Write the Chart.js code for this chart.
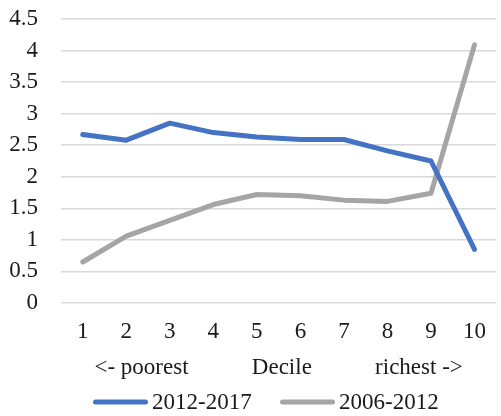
<!DOCTYPE html>
<html>
<head>
<meta charset="utf-8">
<script src="https://cdn.jsdelivr.net/npm/chart.js@4/dist/chart.umd.min.js"></script>
<style>
  html, body { margin: 0; padding: 0; background: #fff; }
  #wrap { width: 501px; height: 416px; }
</style>
</head>
<body>
<div id="wrap"><canvas id="c" width="501" height="416"></canvas></div>
<script>
// Deciles of household income, poorest (1) to richest (10)
const deciles = ['1', '2', '3', '4', '5', '6', '7', '8', '9', '10'];
// Growth by decile, two periods
const growth2012_2017 = [2.67, 2.58, 2.85, 2.70, 2.63, 2.59, 2.59, 2.41, 2.25, 0.85];
const growth2006_2012 = [0.65, 1.06, 1.31, 1.56, 1.72, 1.70, 1.63, 1.61, 1.74, 4.09];
const seriesNames = ['2012-2017', '2006-2012'];
const seriesColors = ['#4472C4', '#A5A5A5'];
const gap = ' '.repeat(11);
const axisTitle = '<- poorest' + gap + 'Decile' + gap + 'richest ->';

const font = { family: '"Liberation Serif", "Times New Roman", serif', size: 23 };
const ink = '#1a1a1a';

// Legend row under the axis title: a short line swatch followed by the series name
const lineLegend = {
  id: 'lineLegend',
  afterDraw(chart) {
    const ctx = chart.ctx;
    const y = 402, swatch = 55, textGap = 4;
    const starts = [93, 280];
    ctx.save();
    ctx.font = `${font.size}px ${font.family}`;
    ctx.textBaseline = 'middle';
    ctx.lineCap = 'round';
    ctx.lineWidth = 5;
    chart.data.datasets.forEach((ds, i) => {
      const x = starts[i];
      ctx.strokeStyle = ds.borderColor;
      ctx.beginPath();
      ctx.moveTo(x + 2.5, y);
      ctx.lineTo(x + swatch - 2.5, y);
      ctx.stroke();
      ctx.fillStyle = ink;
      ctx.fillText(ds.label, x + swatch + textGap, y + 1);
    });
    ctx.restore();
  }
};

new Chart(document.getElementById('c'), {
  type: 'line',
  data: {
    labels: deciles,
    datasets: [
      { label: seriesNames[0], data: growth2012_2017, borderColor: seriesColors[0], backgroundColor: seriesColors[0] },
      { label: seriesNames[1], data: growth2006_2012, borderColor: seriesColors[1], backgroundColor: seriesColors[1] }
    ]
  },
  options: {
    responsive: false,
    animation: false,
    devicePixelRatio: 1,
    layout: { padding: { top: 0, left: 8, right: 0, bottom: 34 } },
    elements: {
      line: { borderWidth: 5, tension: 0, borderCapStyle: 'round', borderJoinStyle: 'round' },
      point: { radius: 0, hoverRadius: 0 }
    },
    scales: {
      x: {
        offset: true,
        afterFit(scale) { scale.height = 79; },
        grid: { display: false, drawTicks: false },
        border: { display: false },
        ticks: { font, color: ink, padding: 15, maxRotation: 0, autoSkip: false },
        title: { display: true, text: axisTitle, font, color: ink, padding: { top: 10, bottom: 0 } }
      },
      y: {
        min: 0, max: 4.5,
        afterFit(scale) { scale.width = 53; scale.paddingTop = 19; scale.paddingBottom = 0; },
        grid: { color: '#D9D9D9', lineWidth: 1.5, drawTicks: false },
        border: { display: false },
        ticks: { stepSize: 0.5, font, color: ink, padding: 23, autoSkip: false, callback: v => String(v) }
      }
    },
    plugins: {
      tooltip: { enabled: false },
      legend: { display: false }
    }
  },
  plugins: [lineLegend]
});
</script>
</body>
</html>
